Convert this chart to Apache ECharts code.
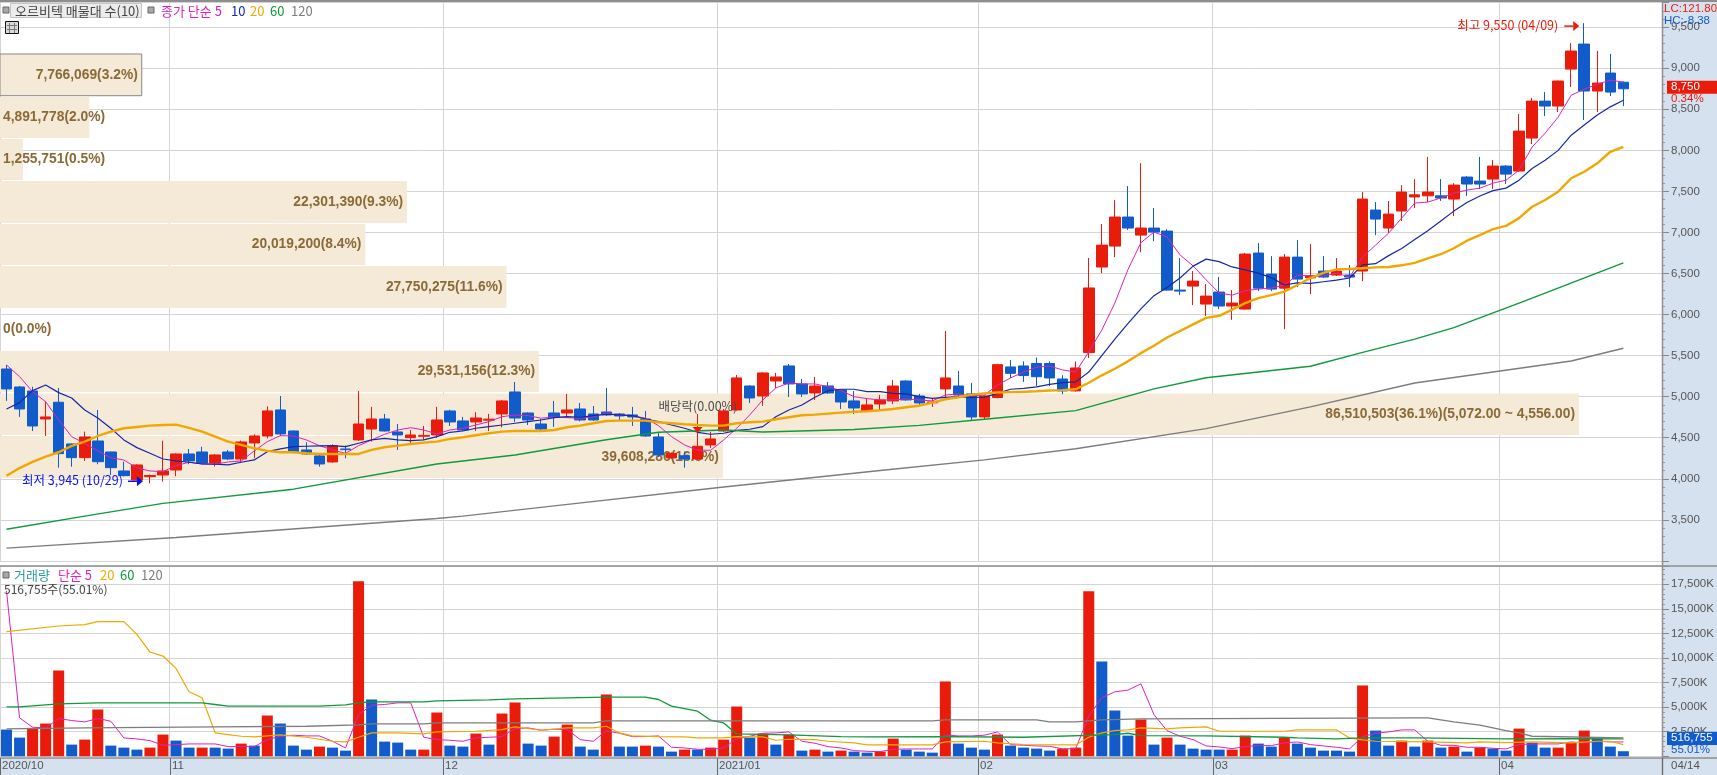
<!DOCTYPE html>
<html><head><meta charset="utf-8">
<style>html,body{margin:0;padding:0;background:#fff}#c{width:1717px;height:775px}</style>
<script src="https://cdn.jsdelivr.net/npm/echarts@6/dist/echarts.min.js"></script>
</head><body><div id="c"></div>
<script>
const opens=[5337,5118,5069,4728,4932,4424,4257,4460,4326,4095,3985,4025,4046,4107,4302,4326,4193,4326,4241,4436,4521,4838,4582,4351,4278,4205,4363,4473,4606,4728,4570,4500,4518,4533,4826,4704,4692,4714,4789,5057,4801,4667,4801,4801,4850,4789,4813,4789,4777,4728,4509,4254,4280,4241,4412,4582,4838,5130,5008,5191,5374,5155,5045,5130,5082,4948,4826,4911,4948,5191,5008,4925,5094,5130,5033,4753,4990,5362,5374,5404,5404,5215,5070,5537,6579,6834,7188,6968,7054,7017,6298,6347,6128,6274,6104,6067,6749,6493,6322,6700,6447,6530,6481,6481,6530,7273,7054,7261,7433,7446,7446,7407,7675,7626,7650,7809,7748,8150,8600,8540,8990,9295,8723,8942,8830];
const closes=[5094,4850,4643,4753,4306,4257,4509,4208,4135,4038,4168,4040,4095,4302,4217,4189,4290,4241,4448,4521,4826,4546,4326,4302,4180,4403,4355,4667,4728,4582,4533,4533,4528,4716,4692,4594,4740,4726,4948,4740,4716,4606,4753,4838,4716,4716,4777,4765,4753,4521,4290,4310,4240,4396,4485,4826,5228,4984,5289,5240,5155,5033,5130,5045,4935,4862,4899,4960,5130,4960,4923,4935,5228,5020,4753,5008,5390,5284,5257,5243,5228,5070,5350,6324,6846,7188,7054,7054,7005,6298,6286,6408,6225,6104,6140,6737,6322,6310,6700,6432,6472,6457,6530,6457,7407,7163,7224,7492,7458,7492,7420,7577,7590,7590,7809,7711,8235,8600,8540,8845,9210,8723,8820,8710,8750];
const lows=[4948,4753,4582,4521,4135,4147,4217,4177,4046,4030,3985,3945,3965,4030,4177,4177,4150,4230,4200,4250,4493,4521,4310,4290,4147,4195,4250,4460,4452,4575,4351,4424,4473,4497,4643,4582,4582,4582,4627,4692,4655,4582,4631,4753,4700,4704,4765,4716,4643,4510,4265,4240,4135,4230,4375,4570,4830,4923,4887,5106,4996,4996,4960,5033,4850,4789,4815,4838,4911,4950,4887,4875,4984,4996,4716,4716,4980,5228,5180,5130,5130,5030,5060,5470,6505,6700,7030,6761,6895,6290,6237,6116,5982,6067,5935,6060,6286,6286,5823,6335,6249,6445,6470,6335,6408,6968,6993,7140,7297,7370,7385,7200,7446,7528,7528,7590,7740,8077,8418,8467,8772,8370,8467,8662,8540];
const highs=[5386,5130,5120,4939,5106,4430,4574,4838,4330,4208,4175,4050,4464,4310,4363,4390,4300,4350,4464,4542,4882,5008,4590,4445,4302,4420,4404,5069,4875,4790,4667,4594,4643,4875,4840,4753,4810,4790,4960,5179,4810,4728,4948,5033,4923,4887,5106,4801,4875,4826,4570,4320,4330,4789,4570,4850,5264,5140,5300,5289,5398,5215,5240,5179,5090,5069,4984,5020,5203,5200,5033,4984,5800,5313,5167,5020,5400,5447,5430,5476,5430,5262,5430,6690,7102,7394,7565,7845,7297,7040,6688,6530,6371,6457,6298,6750,6871,6712,6737,6907,6859,6712,6688,6603,7492,7370,7383,7577,7650,7920,7650,7600,7687,7920,7882,7820,8442,8637,8710,8850,9307,9550,9212,9176,8840];

const priceMA5=[5386,5244,5060,4939,4716,4513,4430,4339,4257,4228,4132,4095,4087,4160,4201,4180,4177,4205,4217,4339,4452,4525,4521,4473,4403,4351,4310,4403,4473,4542,4594,4622,4594,4546,4594,4615,4655,4696,4756,4777,4769,4737,4753,4744,4737,4756,4798,4777,4769,4737,4647,4513,4412,4347,4347,4473,4615,4777,4960,5106,5167,5155,5155,5122,5073,5000,4976,4960,4960,4972,4960,4948,5020,5033,5008,5020,5142,5228,5300,5360,5373,5325,5300,5545,5812,6140,6546,6875,7005,6946,6727,6593,6423,6262,6237,6290,6310,6322,6359,6481,6469,6469,6505,6457,6700,6846,6993,7175,7358,7370,7420,7480,7516,7540,7600,7637,7759,8040,8210,8405,8672,8745,8806,8855,8832];
const priceMA10=[4850,4927,5073,5142,5049,4984,4838,4740,4615,4473,4379,4310,4241,4217,4201,4180,4177,4168,4201,4229,4330,4363,4391,4396,4400,4403,4391,4432,4473,4493,4473,4464,4473,4513,4566,4582,4615,4635,4655,4676,4696,4716,4744,4756,4749,4769,4786,4777,4769,4728,4696,4655,4615,4566,4542,4554,4590,4603,4635,4756,4838,4899,4992,5073,5090,5090,5061,5061,5041,5033,5000,4980,4992,5000,4992,4995,5040,5090,5100,5120,5150,5170,5180,5300,5500,5700,5890,6070,6230,6330,6445,6590,6675,6645,6580,6545,6505,6450,6360,6385,6380,6400,6420,6445,6605,6620,6718,6805,6914,7020,7140,7260,7365,7445,7510,7540,7637,7780,7880,8000,8185,8310,8430,8530,8610];
const priceMA20=[4036,4130,4205,4270,4323,4400,4452,4521,4574,4615,4631,4647,4655,4659,4619,4574,4513,4452,4412,4371,4339,4323,4323,4310,4302,4302,4302,4302,4351,4384,4403,4424,4440,4452,4485,4505,4530,4554,4574,4582,4582,4582,4594,4627,4647,4676,4704,4708,4708,4708,4688,4676,4664,4655,4647,4647,4676,4688,4696,4725,4749,4773,4781,4793,4805,4817,4822,4834,4850,4871,4890,4927,4968,4993,5024,5040,5050,5055,5060,5065,5075,5080,5090,5170,5260,5340,5430,5530,5620,5720,5800,5880,5960,5985,6060,6140,6200,6237,6280,6360,6445,6508,6550,6555,6565,6575,6580,6600,6630,6685,6735,6808,6900,6968,7040,7080,7175,7313,7395,7497,7660,7740,7842,7983,8044];
const priceMA60=[[0,3385],[6,3545],[12,3700],[22,3873],[33,4180],[39,4290],[46,4475],[50,4566],[55,4594],[58,4570],[65,4600],[70,4650],[75,4725],[82,4830],[88,5095],[92,5230],[100,5370],[104,5540],[108,5700],[111,5840],[116,6140],[117,6200],[124,6630]];
const priceMA120=[[0,3155],[13,3285],[33,3515],[35,3545],[42,3670],[55,3900],[67,4100],[75,4230],[82,4365],[92,4610],[100,4875],[108,5167],[120,5435],[124,5590]];

const volumes=[2720,1904,2890,3332,8738,1190,1700,4760,1088,884,680,884,2210,1598,884,884,884,782,1292,1088,4148,3332,1088,680,986,884,578,17816,5780,1496,1394,680,680,4454,1088,986,2312,1190,4352,5474,1292,1088,2006,3230,986,680,6290,986,986,1088,986,476,680,680,884,1700,5066,1904,2312,1190,2210,578,680,476,578,476,374,476,1802,680,476,374,7616,1292,884,680,2210,1088,884,782,578,782,884,16796,9656,4658,2108,3740,1190,1904,1190,782,680,680,680,2108,1292,986,1904,1292,884,578,578,476,7208,2618,1088,1598,986,1598,884,986,476,884,782,578,2822,1394,884,884,1394,2618,1802,986,517];
const volumeUp=[0,0,1,1,1,0,1,1,0,0,0,1,1,0,0,1,0,0,1,0,1,0,0,0,1,0,0,1,0,0,0,0,1,1,0,0,1,0,1,1,0,0,1,1,0,0,1,0,0,1,0,0,1,0,1,1,1,0,1,0,1,0,1,0,1,0,0,1,1,0,0,0,1,0,0,0,1,0,0,0,0,1,1,1,0,0,0,1,0,1,0,0,0,0,1,1,0,0,1,0,0,0,0,0,1,0,0,1,0,1,0,1,0,1,0,0,1,0,0,1,1,1,0,0,0];
const volMA5=[16830,3910,2958,2890,3842,3638,3502,3842,3570,1870,1768,1598,1122,1190,1258,1258,1258,986,986,986,1700,2040,2142,2074,2074,1530,850,4250,5202,5270,5440,5440,1938,1700,1632,1530,1870,1938,2006,2822,2890,2652,2754,2720,1700,1530,2584,2346,2006,2006,2074,918,850,714,714,850,1768,2040,2346,2380,2482,1530,1326,986,850,578,510,476,714,748,748,748,2176,2074,2074,2142,2482,1190,1122,1054,1020,748,782,4080,5950,6562,6732,7378,4250,2618,2040,1700,1054,952,782,986,1088,1088,1360,1462,1190,1054,918,748,2006,2346,2482,2686,2686,1530,1122,1122,918,918,816,748,1190,1258,1258,1258,1462,1360,1530,1462,1462];
const volMA20=[[0,12682],[4,13260],[6,13396],[7,13702],[9,13702],[10,12410],[11,10608],[12,10200],[13,8942],[14,6562],[15,5950],[16,2380],[17,2210],[18,2040],[19,1972],[20,2074],[21,2176],[23,1938],[25,1530],[26,1462],[27,1938],[28,2380],[30,2380],[32,2278],[33,2482],[36,2550],[38,2720],[39,2992],[41,2652],[43,2890],[45,2890],[46,3060],[47,2380],[48,2074],[50,2006],[52,1972],[53,1870],[55,1870],[56,2006],[58,1972],[59,1632],[60,1734],[62,1700],[63,1530],[65,1360],[66,1156],[71,1156],[72,1462],[75,1530],[76,1360],[78,1190],[82,1156],[83,1938],[84,2380],[85,2618],[86,2686],[87,2890],[89,2788],[90,2890],[92,2992],[93,2550],[98,2550],[99,2686],[102,2686],[103,1870],[104,1666],[105,1530],[109,1462],[112,1360],[113,1462],[115,1394],[117,1462],[120,1360],[122,1530],[123,1530],[124,1190]];
const volMA60=[[0,5032],[1,5032],[4,5338],[7,5440],[15,5440],[16,5270],[17,5100],[24,5100],[26,5236],[27,5440],[28,5542],[32,5542],[33,5644],[37,5746],[39,5848],[43,5950],[46,6018],[49,6018],[50,5780],[51,5100],[53,4590],[54,3672],[55,3400],[56,2278],[60,2176],[64,2006],[66,1972],[72,2006],[78,1938],[85,2210],[86,2346],[87,2108],[92,2074],[98,1938],[99,1870],[102,1768],[104,1870],[108,1870],[115,1768],[120,1802],[124,1768]];
const volMA120=[[0,2788],[6,2890],[16,2992],[23,3060],[27,3196],[28,3298],[32,3298],[33,3400],[45,3400],[46,3604],[71,3604],[72,3706],[79,3706],[80,3502],[82,3502],[84,3706],[87,3808],[108,3910],[109,3910],[111,3502],[113,3162],[115,2618],[116,2380],[117,2040],[124,1870]];

const bandTop=[9174,8650,8139,7627,7104,6592,6067,5557,5039,4521];
const bandBottom=[8666,8151,7639,7116,6604,6080,5569,5057,4534,4010];
const bandVolume=[7766069,4891778,1255751,22301390,20019200,27750275,0,29531156,86510503,39608286];
const bandPercent=["3.2","2.0","0.5","9.3","8.4","11.6","0.0","12.3","36.1","16.5"];
const bandRangeText=["","","","","","","","","(5,072.00 ~ 4,556.00)",""];

const monthTicks=[[0,"2020/10"],[13,"11"],[34,"12"],[55,"2021/01"],[75,"02"],[93,"03"],[115,"04"]];
const monthStarts=monthTicks.map(m=>m[0]);
const categories=Array.from({length:128},(_,i)=>String(i));

const RED="#e91c0b",BLUE="#125bcb",MAG="#de22bb",NAVY="#1428a8",ORG="#f0a800",GRN="#0f9a3c",GRY="#7d7d7d";
const PANEL="#d6e1ef",GRID="#d4d4d4",BEIGE="#f5e9d8",BROWN="#8a6a36",DARK="#444";
const FN='"Noto Sans CJK KR",sans-serif';
const NUM='11.5px "Liberation Sans",sans-serif';
const FB='bold 13.8px "Liberation Sans","Noto Sans CJK KR",sans-serif';
const fmt=n=>n.toLocaleString("en-US");

function txt(x,y,text,fill,font){return {type:"text",x:0,y:0,z:30,style:{x,y,text,fill,font:font||("13px "+FN),align:"left",verticalAlign:"middle"}};}
function square(x,y){return {type:"rect",z:30,shape:{x,y,width:6,height:6},style:{fill:"#a8a8a8",stroke:"#666",lineWidth:1}};}
function hline(y,x1,x2,c,w,z){return {type:"line",z:z||22,shape:{x1,y1:y,x2,y2:y},style:{stroke:c,lineWidth:w||1}};}
function vline(x,y1,y2,c,w,z){return {type:"line",z:z||22,shape:{x1:x,y1,x2:x,y2},style:{stroke:c,lineWidth:w||1}};}

const chrome=[
 {type:"rect",z:5,shape:{x:1662,y:0,width:55,height:775},style:{fill:PANEL}},
 {type:"rect",z:5,shape:{x:0,y:758,width:1717,height:17},style:{fill:PANEL}},
 hline(1,0,1717,"#8e8e8e",2), hline(566,0,1717,"#8e8e8e",1.5), hline(758,0,1717,"#8e8e8e",1.5),
 vline(1662.5,0,775,"#8e8e8e",1.5), vline(1662.5,758,775,"#666",1),
 square(3,7),
 {type:"rect",z:29,shape:{x:10.5,y:3.5,width:131,height:14},style:{fill:"#ececec",stroke:"#c4c4c4",lineWidth:1}},
 txt(15,11,"오르비텍 매물대 수(10)",DARK),
 square(148,7),
 txt(161,11,"종가 단순 5",MAG), txt(231,11,"10",NAVY), txt(250,11,"20",ORG), txt(270,11,"60",GRN), txt(291,11,"120",GRY),
 {type:"rect",z:30,shape:{x:5.5,y:21.5,width:13,height:12},style:{fill:"#d9d9d9",stroke:"#111",lineWidth:1}},
 hline(25.5,7,17,"#777",1,31),hline(29.5,7,17,"#777",1,31),vline(9.5,23,33,"#777",1,31),vline(14.5,23,33,"#777",1,31),
 square(3,572),
 txt(14,575,"거래량","#2d9a9a"), txt(58,575,"단순 5",MAG), txt(100,575,"20",ORG), txt(120,575,"60",GRN), txt(141,575,"120",GRY),
 txt(4,589,"516,755주(55.01%)",DARK,"12px "+FN),
 txt(1664,9,"LC:121.80",RED,NUM), txt(1664,21,"HC:-8.38",BLUE,NUM),
 txt(1671,766,"04/14","#555",NUM)
];

function bandRender(p,api){
 const i=p.dataIndex;
 const a=api.coord([bandVolume[i],bandTop[i]]),b=api.coord([bandVolume[i],bandBottom[i]]);
 const w=a[0],t=a[1],h=b[1]-a[1],lab=fmt(bandVolume[i])+"("+bandPercent[i]+"%)"+bandRangeText[i];
 const inside=w>130;
 const ch=[];
 if(w>0)ch.push({type:"rect",shape:{x:0,y:t,width:w,height:h},style:i===0?{fill:BEIGE,stroke:"#888",lineWidth:1}:{fill:BEIGE}});
 ch.push({type:"text",style:{x:inside?w-4:3,y:t+h/2,text:lab,fill:BROWN,font:FB,align:inside?"right":"left",verticalAlign:"middle"}});
 return {type:"group",children:ch};
}
const hiIdx=121,hiVal=9550,loIdx=11,loVal=3945,divIdx=53,divVal=4594,lastIdx=124,lastClose=8750,lastVol=517;
function arrow(x0,x1,y,c){return [
 {type:"line",shape:{x1:x0,y1:y,x2:x1-6,y2:y},style:{stroke:c,lineWidth:1.5}},
 {type:"polygon",shape:{points:[[x1-6,y-5],[x1,y],[x1-6,y+5]]},style:{fill:c}}];}
function annoRender(p,api){
 const h=api.coord([hiIdx,hiVal]),l=api.coord([loIdx,loVal]),d=api.coord([divIdx,divVal]);
 const f='12.5px '+FN;
 return {type:"group",children:[
  ...arrow(h[0]-20,h[0]-5,h[1]+3,RED),
  {type:"text",style:{x:h[0]-26,y:h[1]+2,text:"최고 9,550 (04/09)",fill:RED,font:f,align:"right",verticalAlign:"middle"}},
  ...arrow(l[0]-22,l[0]-7,l[1]-2,"#0a14e6"),
  {type:"text",style:{x:l[0]-27,y:l[1]-3,text:"최저 3,945 (10/29)",fill:"#0a14e6",font:f,align:"right",verticalAlign:"middle"}},
  {type:"polygon",shape:{points:[[d[0]-5,d[1]-3],[d[0]+5,d[1]-3],[d[0],d[1]+3]]},style:{fill:RED}},
  {type:"text",style:{x:d[0]-39,y:d[1]-24,text:"배당락(0.00%)",fill:"#4a4a4a",font:f,align:"left",verticalAlign:"middle"}}
 ]};
}
function badgeRender(p,api){
 const c=api.coord([lastIdx,lastClose]);
 return {type:"group",children:[
  {type:"rect",shape:{x:1667,y:c[1]-8,width:50,height:13},style:{fill:RED}},
  {type:"text",style:{x:1671,y:c[1]-1.5,text:fmt(lastClose),fill:"#fff",font:NUM,verticalAlign:"middle"}},
  {type:"text",style:{x:1671,y:c[1]+10,text:"0.34%",fill:RED,font:NUM,verticalAlign:"middle"}}
 ]};
}
function volBadgeRender(p,api){
 const c=api.coord([lastIdx,lastVol]);
 return {type:"group",children:[
  {type:"rect",shape:{x:1667,y:c[1]-19.5,width:50,height:13.3},style:{fill:BLUE}},
  {type:"text",style:{x:1671,y:c[1]-13,text:"516,755",fill:"#fff",font:NUM,verticalAlign:"middle"}},
  {type:"text",style:{x:1671,y:c[1]-1,text:"55.01%",fill:BLUE,font:NUM,verticalAlign:"middle"}}
 ]};
}
function monthRender(p,api){
 const i=p.dataIndex,c=api.coord([monthTicks[i][0],0]),w=api.size([1,0])[0];
 const x=Math.round(c[0]-w/2)+0.5;
 return {type:"group",children:[
  {type:"line",shape:{x1:x,y1:c[1]+2,x2:x,y2:c[1]+19},style:{stroke:"#666",lineWidth:1}},
  {type:"text",style:{x:x+1.5,y:c[1]+10,text:monthTicks[i][1],fill:"#555",font:NUM,verticalAlign:"middle"}}
 ]};
}
const line=(name,data,color,w,xi,yi,z)=>({type:"line",name,data,xAxisIndex:xi,yAxisIndex:yi,showSymbol:false,symbol:"none",smooth:false,silent:true,z:z||3,lineStyle:{color,width:w},connectNulls:true});

const xCat=(gi)=>({type:"category",gridIndex:gi,data:categories,boundaryGap:true,
 axisLine:{show:false},axisTick:{show:false},axisLabel:{show:false},
 splitLine:{show:true,interval:(i)=>monthStarts.includes(i),lineStyle:{color:GRID,width:1}}});
const yGrid=(gi,min,max,iv)=>({type:"value",gridIndex:gi,min,max,interval:iv,position:"left",
 axisLine:{show:false},axisTick:{show:false},axisLabel:{show:false},splitLine:{show:true,lineStyle:{color:GRID,width:1}}});
const yLab=(gi,min,max,iv,f)=>({type:"value",gridIndex:gi,min,max,interval:iv,position:"right",offset:-7,z:20,
 axisLine:{show:false},axisTick:{show:true,length:7,lineStyle:{color:"#888"}},
 minorTick:{show:true,splitNumber:5,length:3,lineStyle:{color:"#999"}},
 splitLine:{show:false},axisLabel:{show:true,margin:9,color:"#555",fontFamily:'"Liberation Sans"',fontSize:11.5,formatter:f,showMinLabel:true,showMaxLabel:true}});

const chart=echarts.init(document.getElementById("c"),null,{renderer:"canvas"});
chart.setOption({
 animation:false,backgroundColor:"#fff",
 graphic:{elements:chrome},
 grid:[{left:0,top:2.6,width:1669,height:558.25},{left:0,top:566,width:1669,height:190.3}],
 xAxis:[xCat(0),xCat(1),
  {type:"value",gridIndex:0,min:0,max:91441000,show:false,position:"top"}],
 yAxis:[yGrid(0,3000,9800,500),
  yLab(0,3000,9800,500,v=>(v===3000||v===9800)?"":fmt(v)),
  yGrid(1,0,19363,2500),
  yLab(1,0,19363,2500,v=>(v===0||v%2500!==0)?"":fmt(v)+"K")],
 series:[
  {type:"custom",name:"매물대",xAxisIndex:2,yAxisIndex:0,z:1,silent:true,clip:false,renderItem:bandRender,
   data:bandVolume.map((v,i)=>[v,bandTop[i],bandBottom[i]]),encode:{x:0,y:[1,2]}},
  {type:"candlestick",name:"가격",xAxisIndex:0,yAxisIndex:0,z:2,barWidth:11,silent:true,
   data:opens.map((o,i)=>[o,closes[i],lows[i],highs[i]]),
   itemStyle:{color:RED,color0:BLUE,borderColor:RED,borderColor0:BLUE,borderWidth:1}},
  line("5",priceMA5.map((v,i)=>[i,v]),MAG,1,0,0),
  line("10",priceMA10.map((v,i)=>[i,v]),NAVY,1.2,0,0),
  line("20",priceMA20.map((v,i)=>[i,v]),ORG,2.4,0,0),
  line("60",priceMA60,GRN,1.4,0,0),
  line("120",priceMA120,GRY,1.4,0,0),
  {type:"custom",name:"anno",xAxisIndex:0,yAxisIndex:0,z:8,silent:true,clip:false,renderItem:annoRender,data:[[hiIdx,hiVal]],encode:{x:0,y:1}},
  {type:"custom",name:"badge",xAxisIndex:0,yAxisIndex:0,z:30,silent:true,clip:false,renderItem:badgeRender,data:[[lastIdx,lastClose]],encode:{x:0,y:1}},
  {type:"bar",name:"거래량",xAxisIndex:1,yAxisIndex:2,barWidth:11,z:2,silent:true,
   data:volumes.map((v,i)=>({value:v,itemStyle:{color:volumeUp[i]?RED:BLUE}}))},
  line("v5",volMA5.map((v,i)=>[i,v]),MAG,1,1,2),
  line("v20",volMA20,ORG,1.2,1,2),
  line("v60",volMA60,GRN,1.3,1,2),
  line("v120",volMA120,GRY,1.3,1,2),
  {type:"custom",name:"vbadge",xAxisIndex:1,yAxisIndex:2,z:30,silent:true,clip:false,renderItem:volBadgeRender,data:[[lastIdx,lastVol]],encode:{x:0,y:1}},
  {type:"custom",name:"months",xAxisIndex:1,yAxisIndex:2,z:30,silent:true,clip:false,renderItem:monthRender,data:monthTicks.map(m=>[m[0],0]),encode:{x:0,y:1}}
 ]
});
</script></body></html>
